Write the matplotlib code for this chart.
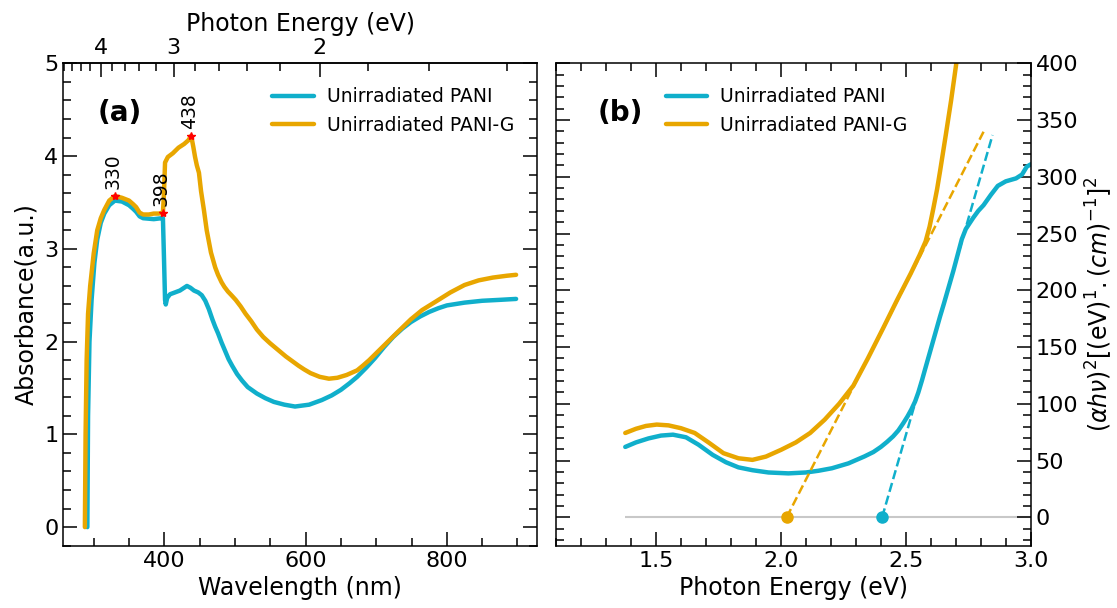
"""UV-Vis absorbance of PANI / PANI-G and Tauc plot (panels a and b)."""

import numpy as np
import matplotlib

matplotlib.use("Agg")
import matplotlib.pyplot as plt
from matplotlib.ticker import MultipleLocator

# ---------------- panel (a): absorbance vs wavelength ----------------
wl_pani = [291, 292, 294, 297, 301, 305, 310, 315, 322, 330, 340, 350, 356,
           360, 365, 370, 385, 396, 398, 399.5, 401, 402, 404, 408, 415, 422,
           428, 432, 437, 442, 448, 453, 458, 463, 468, 472, 476, 481, 486,
           491, 496, 503, 510, 518, 531, 543, 555, 570, 585, 605, 623, 637,
           650, 662, 673, 686, 698, 711, 724, 737, 749, 762, 775, 788, 800,
           825, 850, 875, 898]
abs_pani = [0.0, 1.2, 2.0, 2.45, 2.85, 3.1, 3.28, 3.38, 3.47, 3.52, 3.51,
            3.47, 3.43, 3.40, 3.35, 3.33, 3.32, 3.33, 3.33, 2.9, 2.45, 2.40,
            2.47, 2.51, 2.53, 2.55, 2.58, 2.60, 2.58, 2.55, 2.53, 2.50, 2.44,
            2.35, 2.24, 2.16, 2.09, 1.99, 1.90, 1.81, 1.74, 1.65, 1.58, 1.51,
            1.44, 1.39, 1.35, 1.32, 1.30, 1.32, 1.37, 1.42, 1.48, 1.55, 1.62,
            1.72, 1.82, 1.94, 2.05, 2.14, 2.21, 2.27, 2.32, 2.36, 2.39, 2.42,
            2.44, 2.45, 2.46]

wl_pani_g = [287.5, 288.5, 290, 292, 295, 300, 305, 310, 315, 322, 330, 340,
             350, 356, 360, 365, 370, 378, 385, 392, 398, 399.5, 401, 405,
             412, 420, 428, 434, 438, 441, 443.5, 446, 449, 452, 456, 460,
             466, 472, 476, 481, 485, 490, 495, 501, 508, 515, 523, 531, 540,
             550, 561, 572, 581, 590, 598, 607, 620, 633, 645, 658, 673, 681,
             690, 702, 714, 730, 749, 765, 784, 805, 825, 845, 865, 885, 898]
abs_pani_g = [0.0, 1.0, 1.8, 2.3, 2.6, 2.95, 3.2, 3.33, 3.42, 3.52, 3.57,
              3.55, 3.52, 3.48, 3.45, 3.39, 3.37, 3.37, 3.38, 3.38, 3.39, 3.6,
              3.93, 3.99, 4.03, 4.09, 4.13, 4.17, 4.22, 4.10, 3.99, 3.90, 3.82,
              3.62, 3.42, 3.20, 2.96, 2.80, 2.72, 2.64, 2.59, 2.54, 2.50, 2.45,
              2.38, 2.30, 2.22, 2.13, 2.05, 1.98, 1.91, 1.84, 1.79, 1.74, 1.70,
              1.66, 1.62, 1.60, 1.61, 1.64, 1.69, 1.74, 1.80, 1.89, 1.98, 2.10,
              2.24, 2.34, 2.43, 2.53, 2.61, 2.66, 2.69, 2.71, 2.72]

peak_wl = [330, 398, 438]
peak_abs = [3.57, 3.39, 4.22]

# ---------------- panel (b): Tauc plot ----------------
e_pani = [1.377, 1.42, 1.47, 1.52, 1.568, 1.62, 1.67, 1.727, 1.78, 1.83,
          1.886, 1.95, 2.03, 2.10, 2.15, 2.204, 2.27, 2.334, 2.37, 2.40,
          2.425, 2.449, 2.47, 2.49, 2.507, 2.522, 2.537, 2.55, 2.565, 2.579,
          2.61, 2.637, 2.652, 2.69, 2.724, 2.74, 2.755, 2.77, 2.79, 2.811,
          2.84, 2.868, 2.90, 2.941, 2.965, 2.984, 3.0]
tauc_pani = [62, 66, 69.5, 72, 72.8, 70.5, 64, 55, 48.5, 44, 41.5, 39.5,
             38.7, 39.5, 41, 43.2, 47.5, 53.6, 57.5, 62, 66.5, 71.3, 76.5, 83,
             89, 95, 102, 110, 121, 132, 156, 177, 188, 217, 245, 254, 259,
             264, 270, 275, 284, 292, 296, 298.6, 302, 308.9, 311]

e_pani_g = [1.377, 1.42, 1.46, 1.503, 1.55, 1.60, 1.655, 1.71, 1.77, 1.83,
            1.886, 1.94, 2.001, 2.06, 2.117, 2.175, 2.233, 2.29, 2.348, 2.41,
            2.464, 2.52, 2.555, 2.579, 2.595, 2.61, 2.625, 2.637, 2.66, 2.681,
            2.702, 2.73]
tauc_pani_g = [74.3, 78, 80.5, 81.7, 81, 78.5, 74.3, 66, 56.5, 52, 50.6, 53.5,
               59.5, 66, 74.3, 86, 100, 116, 140, 167, 191, 215, 231, 243,
               256, 272, 289, 305, 337, 367, 400, 450]

# tangent (band gap) extrapolations: [intercept, end]
fit_e_pani = [2.405, 2.847]
fit_y_pani = [0, 336.8]
fit_e_pani_g = [2.023, 2.811]
fit_y_pani_g = [0, 339.7]

CYAN = "#10AFCB"
ORANGE = "#E8A600"


def style_ticks(ax):
    ax.tick_params(which="both", direction="in", width=1.1, labelsize=16)
    ax.tick_params(which="major", length=10)
    ax.tick_params(which="minor", length=5.5)
    for sp in ax.spines.values():
        sp.set_linewidth(1.1)


fig = plt.figure(figsize=(11.17, 6.08), dpi=100)
ax1 = fig.add_axes([0.0567, 0.1025, 0.4243, 0.7934])
ax2 = fig.add_axes([0.4978, 0.1025, 0.4250, 0.7934])

line_kw = dict(lw=3.2, solid_joinstyle="round", solid_capstyle="round")

# ---- panel (a)
ax1.plot(wl_pani, abs_pani, color=CYAN, label="Unirradiated PANI", **line_kw)
ax1.plot(wl_pani_g, abs_pani_g, color=ORANGE, label="Unirradiated PANI-G",
         **line_kw)
ax1.plot(peak_wl, peak_abs, "*", color="red", ms=6, zorder=5)
for w, a in zip(peak_wl, peak_abs):
    ax1.annotate(str(w), (w, a), xytext=(-1, 5), textcoords="offset points",
                 rotation=90, ha="center", va="bottom", fontsize=13.5)

ax1.set_xlim(257, 928)
ax1.set_ylim(-0.2, 5)
ax1.xaxis.set_major_locator(MultipleLocator(200))
ax1.xaxis.set_minor_locator(MultipleLocator(50))
ax1.yaxis.set_major_locator(MultipleLocator(1))
ax1.yaxis.set_minor_locator(MultipleLocator(0.2))
style_ticks(ax1)
ax1.tick_params(which="both", top=False, right=True)
ax1.set_xlabel("Wavelength (nm)", fontsize=17)
ax1.set_ylabel("Absorbance(a.u.)", fontsize=17)


def to_energy(x):
    x = np.asarray(x, dtype=float)
    with np.errstate(divide="ignore"):
        return 1240.0 / x


sec = ax1.secondary_xaxis("top", functions=(to_energy, to_energy))
sec.xaxis.set_major_locator(MultipleLocator(1))
sec.xaxis.set_minor_locator(MultipleLocator(0.2))
style_ticks(sec)
sec.set_xlabel("Photon Energy (eV)", fontsize=17, labelpad=5)

ax1.legend(loc="upper right", bbox_to_anchor=(0.967, 0.966), borderaxespad=0,
           frameon=False, fontsize=13.5, handlelength=2.2,
           handletextpad=0.7, labelspacing=0.5)
ax1.text(0.12, 0.897, "(a)", transform=ax1.transAxes, fontsize=20,
         fontweight="bold", ha="center", va="center")

# ---- panel (b)
ax2.hlines(0, e_pani[0], 3.0, color="#c8c8c8", lw=1.5, zorder=1)
ax2.plot(e_pani, tauc_pani, color=CYAN, label="Unirradiated PANI", **line_kw)
ax2.plot(e_pani_g, tauc_pani_g, color=ORANGE, label="Unirradiated PANI-G",
         **line_kw)
ax2.plot(fit_e_pani, fit_y_pani, "--", color=CYAN, lw=1.8)
ax2.plot(fit_e_pani_g, fit_y_pani_g, "--", color=ORANGE, lw=1.8)
ax2.plot(fit_e_pani[0], fit_y_pani[0], "o", color=CYAN, ms=8, zorder=6)
ax2.plot(fit_e_pani_g[0], fit_y_pani_g[0], "o", color=ORANGE, ms=8, zorder=6)

ax2.set_xlim(1.1, 3.0)
ax2.set_ylim(-25, 400)
ax2.xaxis.set_major_locator(MultipleLocator(0.5))
ax2.xaxis.set_minor_locator(MultipleLocator(0.1))
ax2.yaxis.set_major_locator(MultipleLocator(50))
ax2.yaxis.set_minor_locator(MultipleLocator(10))
style_ticks(ax2)
ax2.tick_params(which="both", top=True, left=True, right=True,
                labelleft=False, labelright=True)
ax2.yaxis.set_label_position("right")
ax2.set_xlabel("Photon Energy (eV)", fontsize=17)
ax2.set_ylabel(r"$(\alpha h\nu)^2[(\mathrm{eV})^1.(cm)^{-1}]^2$", fontsize=17)

ax2.legend(loc="upper left", bbox_to_anchor=(0.215, 0.966), borderaxespad=0,
           frameon=False, fontsize=13.5, handlelength=2.2,
           handletextpad=0.7, labelspacing=0.5)
ax2.text(0.136, 0.897, "(b)", transform=ax2.transAxes, fontsize=20,
         fontweight="bold", ha="center", va="center")

fig.savefig("out.png", dpi=100)
